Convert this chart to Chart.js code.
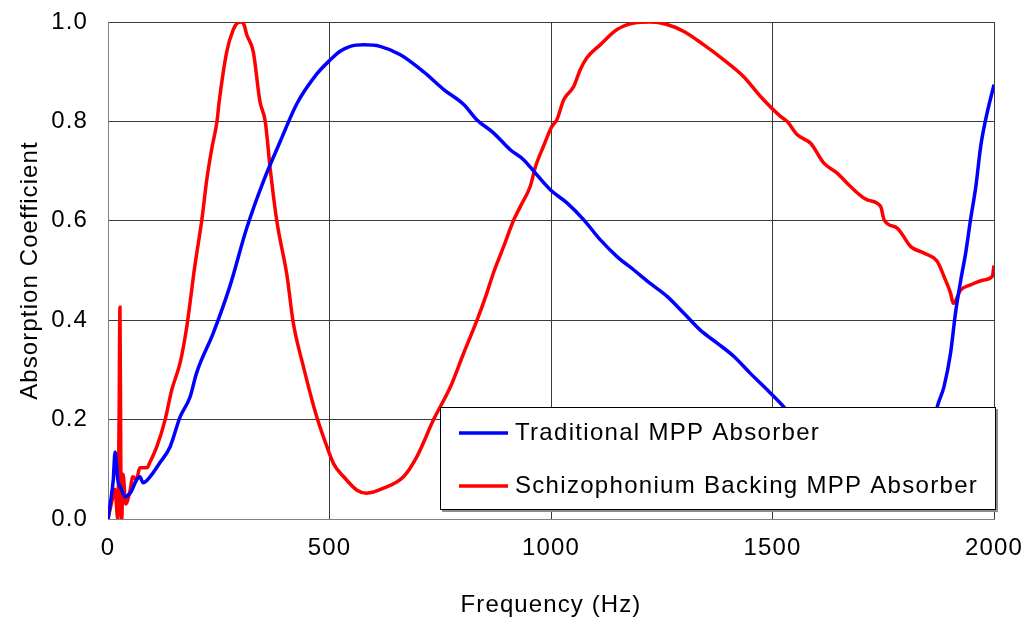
<!DOCTYPE html>
<html>
<head>
<meta charset="utf-8">
<script src="https://cdn.jsdelivr.net/npm/chart.js@4.4.0/dist/chart.umd.min.js"></script>
<style>
  html, body { margin: 0; padding: 0; background: #fff; }
  #wrap { width: 1027px; height: 617px; }
</style>
</head>
<body>
<div id="wrap"><canvas id="absChart" width="1027" height="617"></canvas></div>
<script>
// frequency (Hz) / absorption coefficient
const tradFreq = [0, 5, 12, 16, 22, 30, 38, 50, 65, 72, 79, 95, 117, 140, 163, 185, 200, 238, 275, 313, 351, 389, 426, 471, 502, 524, 547, 577, 614, 660, 712, 758, 803, 833, 870, 908, 938, 961, 999, 1036, 1074, 1111, 1149, 1187, 1224, 1262, 1300, 1337, 1375, 1413, 1450, 1488, 1518, 1560, 1620, 1680, 1740, 1790, 1830, 1855, 1872, 1887, 1902, 1913, 1925, 1936, 1947, 1959, 1970, 1981, 2000];
const tradAbs = [0, 0.03, 0.08, 0.135, 0.08, 0.06, 0.045, 0.052, 0.079, 0.085, 0.073, 0.085, 0.113, 0.145, 0.206, 0.245, 0.294, 0.375, 0.468, 0.585, 0.68, 0.76, 0.835, 0.895, 0.924, 0.941, 0.951, 0.954, 0.951, 0.934, 0.9, 0.864, 0.834, 0.803, 0.777, 0.743, 0.723, 0.7, 0.662, 0.636, 0.602, 0.562, 0.528, 0.501, 0.474, 0.448, 0.414, 0.38, 0.354, 0.327, 0.293, 0.26, 0.233, 0.19, 0.14, 0.09, 0.05, 0.04, 0.08, 0.15, 0.226, 0.266, 0.334, 0.414, 0.481, 0.535, 0.602, 0.669, 0.75, 0.803, 0.874];

const schizFreq = [0, 10, 16, 22, 25, 27, 29, 31, 34, 40, 50, 56, 64, 72, 88, 95, 110, 129, 144, 163, 178, 196, 212, 223, 234, 246, 251, 268, 283, 292, 300, 307, 313, 328, 343, 355, 366, 381, 404, 418, 441, 471, 494, 510, 532, 562, 584, 622, 667, 697, 735, 773, 803, 833, 855, 870, 893, 916, 931, 953, 965, 983, 1002, 1013, 1029, 1051, 1066, 1081, 1111, 1149, 1187, 1224, 1262, 1300, 1345, 1390, 1435, 1473, 1518, 1533, 1556, 1586, 1616, 1646, 1676, 1714, 1744, 1752, 1782, 1812, 1842, 1872, 1887, 1902, 1908, 1925, 1947, 1977, 1996, 2000];
const schizAbs = [0, 0.04, 0.06, 0.0, 0.2, 0.426, 0.1, 0.0, 0.09, 0.03, 0.058, 0.085, 0.08, 0.103, 0.103, 0.115, 0.145, 0.2, 0.26, 0.315, 0.388, 0.509, 0.603, 0.683, 0.744, 0.8, 0.84, 0.94, 0.985, 0.998, 1.0, 0.995, 0.975, 0.94, 0.84, 0.8, 0.706, 0.6, 0.49, 0.396, 0.307, 0.206, 0.146, 0.11, 0.085, 0.058, 0.052, 0.062, 0.085, 0.125, 0.2, 0.266, 0.334, 0.4, 0.454, 0.495, 0.548, 0.602, 0.629, 0.669, 0.709, 0.75, 0.79, 0.803, 0.844, 0.87, 0.904, 0.928, 0.954, 0.985, 0.998, 1.0, 0.995, 0.981, 0.954, 0.924, 0.89, 0.85, 0.81, 0.8, 0.773, 0.756, 0.716, 0.696, 0.669, 0.642, 0.629, 0.602, 0.585, 0.548, 0.535, 0.518, 0.488, 0.454, 0.434, 0.461, 0.471, 0.481, 0.488, 0.51];

const seriesNames = ["Traditional MPP Absorber", "Schizophonium Backing MPP Absorber"];
const seriesColors = ["#0000ff", "#ff0000"];
const xTicks = [0, 500, 1000, 1500, 2000];
const yTicks = [0, 0.2, 0.4, 0.6, 0.8, 1.0];

const FONT = "'Liberation Sans', Arial, sans-serif";

function toPoints(xs, ys) {
  return xs.map((x, i) => ({ x: x, y: ys[i] }));
}

// slightly wider letter spacing, like the original figure
const spacing = {
  id: "spacing",
  beforeDraw(chart) {
    chart.ctx.letterSpacing = "1.1px";
  }
};

// legend box sitting inside the plot, over the lines
const insideLegend = {
  id: "insideLegend",
  afterDatasetsDraw(chart) {
    const c = chart.ctx;
    const left = 440, top = 407, w = 556, h = 103;
    c.save();
    c.fillStyle = "#8c8c8c";
    c.fillRect(left + 2, top + 2, w, h);
    c.fillStyle = "#ffffff";
    c.fillRect(left, top, w, h);
    c.strokeStyle = "#000000";
    c.lineWidth = 1;
    c.strokeRect(left + 0.5, top + 0.5, w - 1, h - 1);
    c.font = "24px " + FONT;
    c.letterSpacing = "1.3px";
    c.textBaseline = "middle";
    c.fillStyle = "#000000";
    const rows = [top + 26, top + 79];
    seriesNames.forEach((name, i) => {
      c.strokeStyle = seriesColors[i];
      c.lineWidth = 3.5;
      c.beginPath();
      c.moveTo(left + 19, rows[i]);
      c.lineTo(left + 68, rows[i]);
      c.stroke();
      c.fillText(name, left + 75, rows[i]);
    });
    c.restore();
  }
};

const ctx = document.getElementById("absChart").getContext("2d");

const chart = new Chart(ctx, {
  type: "line",
  data: {
    datasets: [
      {
        label: seriesNames[0],
        data: toPoints(tradFreq, tradAbs),
        borderColor: seriesColors[0],
        borderWidth: 3.5,
        pointRadius: 0,
        cubicInterpolationMode: "monotone",
      },
      {
        label: seriesNames[1],
        data: toPoints(schizFreq, schizAbs),
        borderColor: seriesColors[1],
        borderWidth: 3.5,
        pointRadius: 0,
        cubicInterpolationMode: "monotone",
      },
    ],
  },
  options: {
    responsive: false,
    animation: false,
    devicePixelRatio: 1,
    layout: { padding: { top: 22, right: 33, left: 0, bottom: 0 } },
    plugins: {
      legend: { display: false },
      tooltip: { enabled: false },
    },
    scales: {
      x: {
        type: "linear",
        min: 0,
        max: 2000,
        afterBuildTicks: (scale) => { scale.ticks = xTicks.map((v) => ({ value: v })); },
        afterFit: (scale) => {
          scale.height = 98;
          scale.paddingLeft = 0;
          scale.paddingRight = 0;
        },
        grid: { color: "#3a3a3a", lineWidth: 1, drawTicks: false },
        border: { color: "#808080", width: 1 },
        ticks: { color: "#000", padding: 15, font: { family: FONT, size: 24 }, maxRotation: 0, callback: (v) => String(v) },
        title: { display: true, text: "Frequency (Hz)", color: "#000", font: { family: FONT, size: 24 }, padding: { top: 0, bottom: -3 } },
      },
      y: {
        type: "linear",
        min: 0,
        max: 1,
        afterBuildTicks: (scale) => { scale.ticks = yTicks.map((v) => ({ value: v })); },
        afterFit: (scale) => {
          scale.width = 108;
          scale.paddingTop = 0;
          scale.paddingBottom = 0;
        },
        grid: { color: "#3a3a3a", lineWidth: 1, drawTicks: false },
        border: { color: "#808080", width: 1 },
        ticks: { color: "#000", padding: 20, font: { family: FONT, size: 24 }, callback: (v) => Number(v).toFixed(1) },
        title: { display: true, text: "Absorption Coefficient", color: "#000", font: { family: FONT, size: 24 }, padding: { top: 16, bottom: 0 } },
      },
    },
  },
  plugins: [spacing, insideLegend],
});
</script>
</body>
</html>
